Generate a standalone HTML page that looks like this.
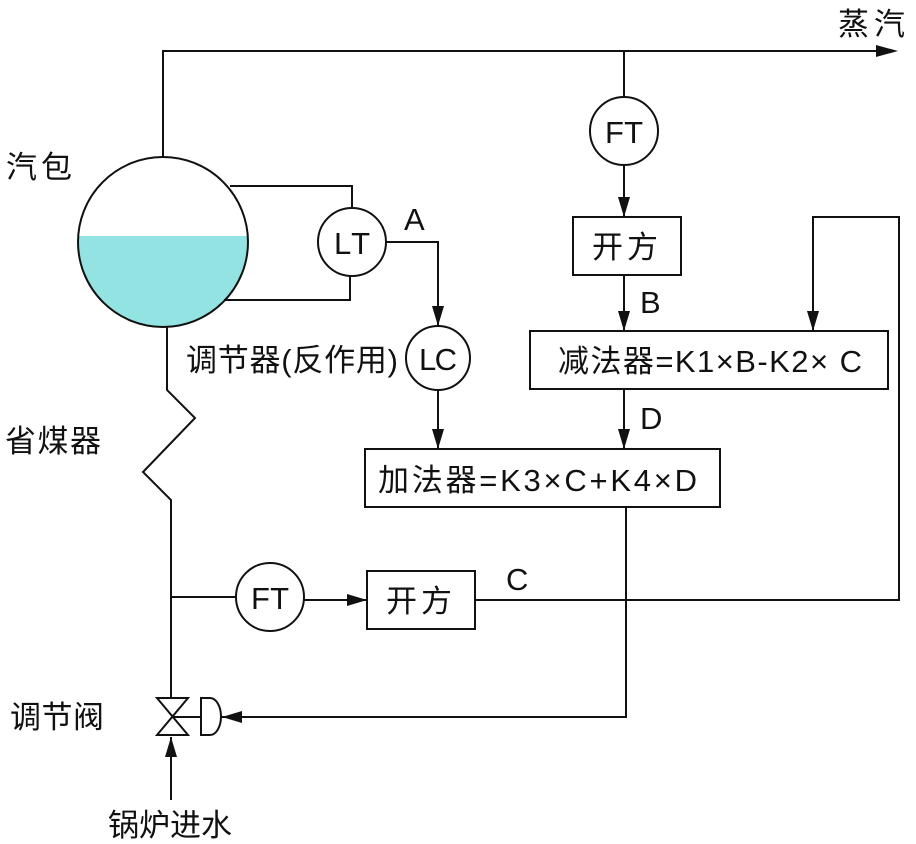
<!DOCTYPE html>
<html><head><meta charset="utf-8"><style>
html,body{margin:0;padding:0;background:#fff;}
svg{display:block;}
text{font-family:"Liberation Sans","Noto Sans CJK SC",sans-serif;fill:#111;}
</style></head><body>
<svg width="916" height="844" viewBox="0 0 916 844" xmlns="http://www.w3.org/2000/svg">
<defs>
<marker id="ab" markerWidth="20" markerHeight="12" refX="20" refY="6" orient="auto" markerUnits="userSpaceOnUse">
<path d="M0,0 L20,6 L0,12 Z" fill="#111"/>
</marker>
</defs>
<g fill="none" stroke="#111" stroke-width="2">
<path d="M247.8,236 A85,85 0 1 1 78.2,236 Z" fill="#93e3e3" stroke="none"/>
<circle cx="163" cy="242" r="85"/>
<polyline points="163,157 163,51 876,51"/>
<path d="M876,45 L898,51 L876,57 Z" fill="#111" stroke="none"/>
<line x1="624" y1="51" x2="624" y2="97"/>
<circle cx="624" cy="131" r="34"/>
<line x1="624" y1="165" x2="624" y2="217" marker-end="url(#ab)"/>
<rect x="573" y="217" width="108" height="58"/>
<line x1="624" y1="275" x2="624" y2="331" marker-end="url(#ab)"/>
<rect x="530" y="331" width="358" height="58"/>
<line x1="624" y1="389" x2="624" y2="449" marker-end="url(#ab)"/>
<rect x="365" y="449" width="355" height="58"/>
<polyline points="475,600 899,600 899,217 813,217 813,331" marker-end="url(#ab)"/>
<polyline points="230,186 352,186 352,209"/>
<polyline points="224,300 350,300 350,275"/>
<circle cx="352" cy="242" r="34"/>
<polyline points="386,242 438,242 438,326" marker-end="url(#ab)"/>
<circle cx="438" cy="358" r="32"/>
<line x1="438" y1="390" x2="438" y2="449" marker-end="url(#ab)"/>
<polyline points="167,327 167,390 195,418 143,472 171,500 171,698"/>
<line x1="171" y1="597" x2="236" y2="597"/>
<circle cx="270" cy="597" r="34"/>
<line x1="304" y1="600" x2="367" y2="600" marker-end="url(#ab)"/>
<rect x="367" y="571" width="108" height="58"/>
<polyline points="626,507 626,717 222,717" marker-end="url(#ab)"/>
<path d="M157,698 L188,698 L157,735 L188,735 Z"/>
<line x1="172" y1="717" x2="201" y2="717"/>
<path d="M201,698 L210,698 A11,18.5 0 0 1 210,735 L201,735 Z"/>
<line x1="171" y1="800" x2="171" y2="737" marker-end="url(#ab)"/>
</g>
<g font-size="31">
<text x="838" y="35" textLength="67">蒸汽</text>
<text x="6" y="178" textLength="66">汽包</text>
<text x="5" y="452" textLength="96">省煤器</text>
<text x="10" y="728" textLength="94">调节阀</text>
<text x="108" y="836" textLength="124">锅炉进水</text>
<text x="186" y="371" textLength="212">调节器(反作用)</text>
<text x="592" y="258" textLength="66">开方</text>
<text x="386" y="612" textLength="66">开方</text>
<text x="558" y="372" textLength="304">减法器=K1×B-K2× C</text>
<text x="378" y="491" textLength="319">加法器=K3×C+K4×D</text>
<text x="404" y="230">A</text>
<text x="640" y="313">B</text>
<text x="640" y="429">D</text>
<text x="506" y="590">C</text>
<text x="605" y="143" textLength="38">FT</text>
<text x="251" y="609" textLength="38">FT</text>
<text x="334" y="254" textLength="36">LT</text>
<text x="419" y="370" textLength="38">LC</text>
</g>
</svg>
</body></html>
